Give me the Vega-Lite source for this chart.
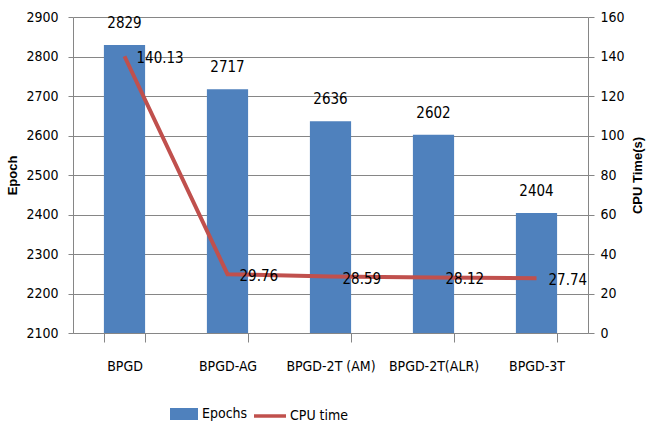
{
  "$schema": "https://vega.github.io/schema/vega-lite/v6.json",
  "autosize": "none",
  "width": 515,
  "height": 316,
  "padding": {"left": 73, "top": 17, "right": 58, "bottom": 93},
  "background": "white",
  "config": {
    "font": "DejaVu Sans Condensed, Liberation Sans, sans-serif",
    "view": {"stroke": null},
    "axis": {"labelFont": "DejaVu Sans Condensed, Liberation Sans, sans-serif", "labelFontSize": 14, "labelColor": "#000", "labelOverlap": false, "domainColor": "#868686", "tickColor": "#868686", "gridColor": "#868686", "titleFont": "Liberation Sans, sans-serif", "titleFontSize": 13, "titleFontWeight": "bold", "titleColor": "#000"},
    "legend": {"labelFont": "DejaVu Sans Condensed, Liberation Sans, sans-serif", "labelFontSize": 14, "labelColor": "#000"}
  },
  "data": {"values": [
    {"method": "BPGD", "epochs": 2829, "cpu": 140.13},
    {"method": "BPGD-AG", "epochs": 2717, "cpu": 29.76},
    {"method": "BPGD-2T (AM)", "epochs": 2636, "cpu": 28.59},
    {"method": "BPGD-2T(ALR)", "epochs": 2602, "cpu": 28.12},
    {"method": "BPGD-3T", "epochs": 2404, "cpu": 27.74}
  ]},
  "encoding": {
    "x": {"field": "method", "type": "nominal", "sort": null,
      "scale": {"paddingInner": 0.6, "paddingOuter": 0.3},
      "axis": {"title": null, "labelAngle": 0, "tickBand": "extent", "tickSize": 9, "labelPadding": 17, "grid": false}}
  },
  "layer": [
    {
      "encoding": {
        "y": {"field": "epochs", "type": "quantitative", "scale": {"domain": [2100, 2900], "nice": false},
          "axis": {"title": "Epoch", "format": "d", "values": [2100,2200,2300,2400,2500,2600,2700,2800,2900], "grid": true, "tickSize": 5, "labelPadding": 10, "titlePadding": 6}}
      },
      "layer": [
        {"mark": {"type": "bar", "color": "#4F81BD"},
         "encoding": {
           "y2": {"datum": 2100},
           "color": {"datum": "Epochs", "type": "nominal", "scale": {"range": ["#4F81BD"]},
             "legend": {"orient": "none", "legendX": 97, "legendY": 383, "title": null, "symbolType": "M-1,-0.43H1V0.43H-1Z", "symbolSize": 784, "symbolStrokeWidth": 0, "labelOffset": 4}}
         }},
        {"mark": {"type": "text", "dy": -22, "fontSize": 15, "color": "#000"},
         "encoding": {
           "text": {"field": "epochs", "type": "quantitative"}
         }}
      ]
    },
    {
      "encoding": {
        "y": {"field": "cpu", "type": "quantitative", "scale": {"domain": [0, 160], "nice": false},
          "axis": {"title": "CPU Time(s)", "orient": "right", "format": "d", "values": [0,20,40,60,80,100,120,140,160], "grid": false, "tickSize": 6, "labelPadding": 6, "titleAngle": 270, "titlePadding": 20}}
      },
      "layer": [
        {"mark": {"type": "line", "strokeWidth": 4, "color": "#C0504D"},
         "encoding": {
           "stroke": {"datum": "CPU time", "type": "nominal", "scale": {"range": ["#C0504D"]},
             "legend": {"orient": "none", "legendX": 179, "legendY": 381, "title": null, "symbolType": "stroke", "symbolStrokeWidth": 3.5, "symbolSize": 1024, "labelOffset": 2}}
         }},
        {"mark": {"type": "text", "align": "left", "baseline": "middle", "dx": 12, "dy": 2, "fontSize": 15, "color": "#000"},
         "encoding": {
           "text": {"field": "cpu", "type": "quantitative", "format": ".2f"}
         }}
      ]
    }
  ],
  "resolve": {"scale": {"y": "independent"}}
}
